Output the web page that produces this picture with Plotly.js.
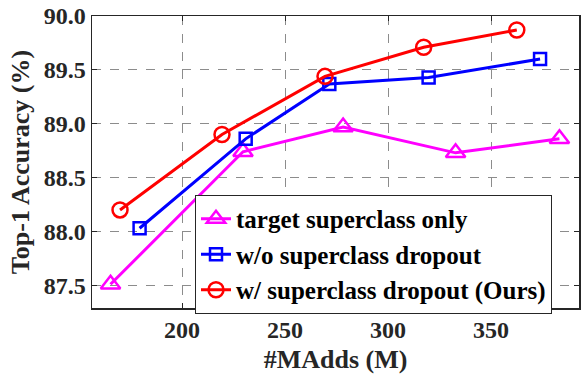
<!DOCTYPE html>
<html>
<head>
<meta charset="utf-8">
<script src="https://cdn.plot.ly/plotly-3.0.1.min.js"></script>
<style>html,body{margin:0;padding:0;background:#fff;}#chart{width:584px;height:375px;}</style>
</head>
<body>
<div id="chart"></div>
<script>
// Data
const seriesNames = ["target superclass only", "w/o superclass dropout", "w/ superclass dropout (Ours)"];
const targetX = [165.3, 229.6, 278.2, 332.8, 383.2];
const targetY = [87.51, 88.74, 88.97, 88.73, 88.86];
const woX = [179.4, 230.9, 271.5, 319.7, 373.8];
const woY = [88.03, 88.86, 89.37, 89.43, 89.60];
const wX = [169.9, 219.4, 269.4, 317.3, 362.5];
const wY = [88.20, 88.90, 89.44, 89.71, 89.87];
const xTicks = [200, 250, 300, 350];
const yTicks = [87.5, 88.0, 88.5, 89.0, 89.5, 90.0];
const yTickText = ["87.5", "88.0", "88.5", "89.0", "89.5", "90.0"];

const FONT = "'Liberation Serif', 'Times New Roman', Times, serif";

const traces = [
  {x: targetX, y: targetY, name: seriesNames[0], mode: "lines+markers",
   line: {color: "#ff00ff", width: 3},
   marker: {symbol: "triangle-up-open", size: 17, color: "#ff00ff", line: {width: 2.5, color: "#ff00ff"}}},
  {x: woX, y: woY, name: seriesNames[1], mode: "lines+markers",
   line: {color: "#0000ff", width: 3},
   marker: {symbol: "square-open", size: 12, color: "#0000ff", line: {width: 2.5, color: "#0000ff"}}},
  {x: wX, y: wY, name: seriesNames[2], mode: "lines+markers",
   line: {color: "#ff0000", width: 3},
   marker: {symbol: "circle-open", size: 15, color: "#ff0000", line: {width: 2.5, color: "#ff0000"}}}
];

const layout = {
  width: 584, height: 375,
  margin: {l: 92, r: 5, t: 16, b: 67},
  paper_bgcolor: "#fff", plot_bgcolor: "#fff",
  font: {family: FONT, size: 24, color: "#262626", weight: "bold"},
  showlegend: true,
  legend: {
    x: 0.2115, y: 0.387, xanchor: "left", yanchor: "top",
    bgcolor: "#fff", bordercolor: "#262626", borderwidth: 1,
    font: {family: FONT, size: 25, color: "#000", weight: "bold"},
    tracegroupgap: 0, itemwidth: 30
  },
  xaxis: {
    range: [156.3, 392.7],
    tickvals: xTicks, ticktext: xTicks.map(String),
    ticks: "inside", ticklen: 5, tickcolor: "#262626", tickwidth: 1,
    showline: true, linecolor: "#262626", linewidth: 1.5, mirror: "ticks",
    showgrid: true, gridcolor: "#8c8c8c", griddash: "dash", gridwidth: 1,
    zeroline: false,
    tickfont: {family: FONT, size: 24, color: "#262626", weight: "bold"},
    title: {text: "#MAdds (M)", font: {family: FONT, size: 26, color: "#262626", weight: "bold"}, standoff: 7}
  },
  yaxis: {
    range: [87.29, 90.0],
    tickvals: yTicks, ticktext: yTickText,
    ticks: "inside", ticklen: 5, tickcolor: "#262626", tickwidth: 1,
    showline: true, linecolor: "#262626", linewidth: 1.5, mirror: "ticks",
    showgrid: true, gridcolor: "#8c8c8c", griddash: "dash", gridwidth: 1,
    zeroline: false,
    tickfont: {family: FONT, size: 24, color: "#262626", weight: "bold"},
    title: {text: "Top-1 Accuracy (%)", font: {family: FONT, size: 26, color: "#262626", weight: "bold"}, standoff: 6}
  }
};

Plotly.newPlot("chart", traces, layout, {displayModeBar: false, staticPlot: true});
</script>
</body>
</html>
